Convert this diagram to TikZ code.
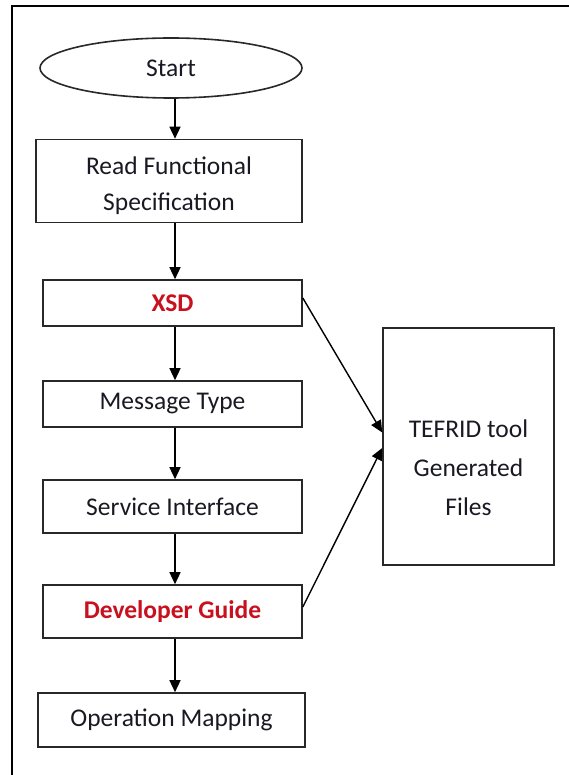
\documentclass[tikz,border=0pt]{standalone}
\usepackage{fontspec}
\setmainfont{Carlito}
\usetikzlibrary{shapes.geometric,arrows.meta}
\definecolor{txt}{RGB}{25,25,35}
\definecolor{redtxt}{RGB}{200,16,30}
\definecolor{edge}{RGB}{40,40,40}
\tikzset{
  box/.style={draw=edge,line width=1.6pt,rectangle,inner sep=0pt,text=txt,align=center,font=\fontsize{25.5}{36}\selectfont},
  redbox/.style={box,text=redtxt,font=\fontsize{25.5}{36}\selectfont\bfseries},
  arr/.style={draw=black,line width=1.4pt,-{Triangle[width=11pt,length=12pt]}},
}
\begin{document}
\begin{tikzpicture}[x=1pt,y=-1pt]
\useasboundingbox (0,0) rectangle (569,775);
\fill[white] (0,0) rectangle (569,775);
\draw[line width=2.8pt,black] (12,775) -- (12,6) -- (569,6);

\node[box,ellipse,minimum width=262pt,minimum height=60pt] (start) at (171,68) {Start};
\node[box,minimum width=266pt,minimum height=83pt] (read) at (169,181) {};
\node[text=txt,align=center,font=\fontsize{25.5}{36}\selectfont] (readtext) at (169,186) {Read Functional\\Specification};
\node[redbox,minimum width=259pt,minimum height=46pt] (xsd) at (172.5,303) {XSD};
\node[box,minimum width=259pt,minimum height=46pt] (msg) at (172.5,404) {Message Type};
\node[box,minimum width=259pt,minimum height=53pt] (svc) at (172.5,506.5) {Service Interface};
\node[redbox,minimum width=259pt,minimum height=53pt] (dev) at (172.5,611.5) {Developer Guide};
\node[box,minimum width=267pt,minimum height=54pt] (op) at (171.5,720) {Operation Mapping};
\node[box,minimum width=171pt,minimum height=237pt] (tef) at (468.5,446.5) {};
\node[text=txt,align=center,font=\fontsize{25.5}{39}\selectfont] (teftext) at (468.5,468) {TEFRID tool\\Generated\\Files};

\coordinate (c1) at (175,0);
\draw[arr] (start.south -| c1) -- (read.north -| c1);
\draw[arr] (read.south -| c1) -- (xsd.north -| c1);
\draw[arr] (xsd.south -| c1) -- (msg.north -| c1);
\draw[arr] (msg.south -| c1) -- (svc.north -| c1);
\draw[arr] (svc.south -| c1) -- (dev.north -| c1);
\draw[arr] (dev.south -| c1) -- (op.north -| c1);

\draw[arr] ([yshift=5pt]xsd.east) -- ([yshift=14pt]tef.west);
\draw[arr] ([yshift=4.5pt]dev.east) -- ([yshift=-1.5pt]tef.west);
\end{tikzpicture}
\end{document}
